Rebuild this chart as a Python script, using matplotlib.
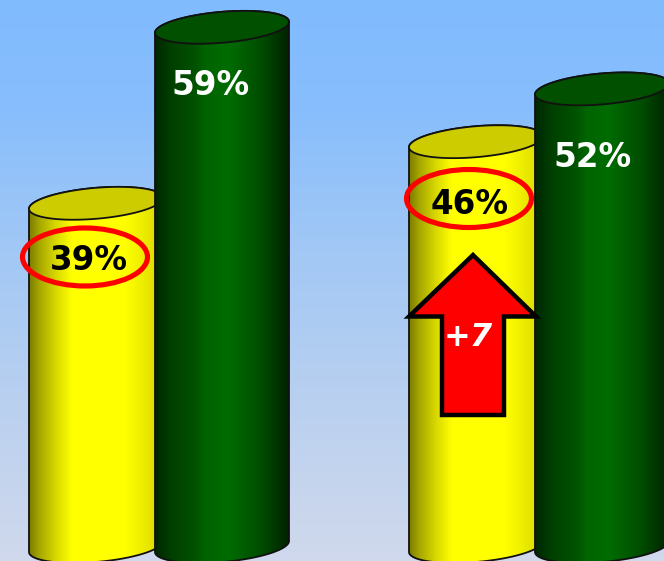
import numpy as np
import matplotlib
matplotlib.use("Agg")
import matplotlib.pyplot as plt
from matplotlib.colors import LinearSegmentedColormap
from matplotlib.patches import Polygon, Ellipse

# Data
series_names = ["Before", "After"]
yellow_values = [39, 46]
green_values = [59, 52]
change_label = "+7"

# Layout: x axis runs in figure pixels, y axis in percent
W, H = 664, 561
PX_PER_PCT = 8.8
BASE_PX = 546.5
SHEAR = 5.5      # px
MINOR = 15.5     # px
BAR_W = 134
yellow_x = [96, 476]
green_x = [222, 602]

plt.rcParams["font.family"] = "DejaVu Sans"
fig = plt.figure(figsize=(W / 100, H / 100), dpi=100)
ax = fig.add_axes([0, 0, 1, 1])
ax.set_xlim(0, W)
ax.set_ylim((BASE_PX - H) / PX_PER_PCT, BASE_PX / PX_PER_PCT)
ax.axis("off")
ax.set_aspect("auto")


def y_from_px(py):
    return (BASE_PX - py) / PX_PER_PCT


extent = (0, W, y_from_px(H), y_from_px(0))
bg_cmap = LinearSegmentedColormap.from_list(
    "bg", [(0, "#80bbff"), (0.2, "#88befc"), (0.45, "#a2c8f5"),
           (0.75, "#bcd1ef"), (1, "#d0d9ec")])
ax.imshow(np.linspace(0, 1, 256)[:, None], extent=extent, cmap=bg_cmap,
          aspect="auto", zorder=0, vmin=0, vmax=1)

yellow_cmap = LinearSegmentedColormap.from_list("y", [
    (0, "#7c7c00"), (0.08, "#a8a800"), (0.2, "#d8d800"), (0.32, "#ffff00"),
    (0.72, "#ffff00"), (1, "#d8d800")])
green_cmap = LinearSegmentedColormap.from_list("g", [
    (0, "#002600"), (0.12, "#003f00"), (0.3, "#005200"), (0.38, "#006400"),
    (0.55, "#006c00"), (0.8, "#004c00"), (1, "#002200")])


def ell(cx, cy_val, t):
    """Sheared ellipse outline at height cy_val, angle array t."""
    a = BAR_W / 2
    x = cx + a * np.cos(t)
    y = cy_val + (SHEAR * np.cos(t) + MINOR * np.sin(t)) / PX_PER_PCT
    return np.column_stack([x, y])


def cylinder(cx, value, cmap, top_color, z):
    bottom = ell(cx, 0, np.linspace(np.pi, 2 * np.pi, 120))
    top_back = ell(cx, value, np.linspace(0, np.pi, 120))
    outline = np.vstack([bottom, top_back])
    body = Polygon(outline, closed=True, facecolor="none", edgecolor="#111111",
                   lw=1.3, zorder=z + 0.2, joinstyle="round")
    ax.add_patch(body)
    im = ax.imshow(np.linspace(0, 1, 256)[None, :], cmap=cmap, vmin=0, vmax=1,
                   extent=(cx - BAR_W / 2, cx + BAR_W / 2, y_from_px(H), y_from_px(0)),
                   aspect="auto", zorder=z)
    clip = Polygon(outline, closed=True, transform=ax.transData)
    im.set_clip_path(clip)
    cap = ell(cx, value, np.linspace(0, 2 * np.pi, 240))
    ax.add_patch(Polygon(cap, closed=True, facecolor=top_color,
                         edgecolor="#111111", lw=1.3, zorder=z + 0.3))


for i in range(len(yellow_values)):
    cylinder(yellow_x[i], yellow_values[i], yellow_cmap, "#cccc00", 2 + i * 2)
    cylinder(green_x[i], green_values[i], green_cmap, "#005000", 3 + i * 2)

ax.set_xlim(0, W)
ax.set_ylim(y_from_px(H), y_from_px(0))

# Percent labels
fs = 23.5
ax.text(88.5, y_from_px(261), f"{yellow_values[0]}%", color="black", fontsize=fs,
        fontweight="bold", ha="center", va="center", zorder=20)
ax.text(211, y_from_px(86), f"{green_values[0]}%", color="white", fontsize=fs,
        fontweight="bold", ha="center", va="center", zorder=20)
ax.text(470, y_from_px(205), f"{yellow_values[1]}%", color="black", fontsize=fs,
        fontweight="bold", ha="center", va="center", zorder=20)
ax.text(592, y_from_px(158), f"{green_values[1]}%", color="white", fontsize=fs,
        fontweight="bold", ha="center", va="center", zorder=20)

# Red highlight ellipses
for cx, cy in [(85, 257), (469, 198.5)]:
    ax.add_patch(Ellipse((cx, y_from_px(cy)), 125, 58 / PX_PER_PCT,
                         facecolor="none", edgecolor="#ff0000", lw=3.7, zorder=15))

# Arrow
arrow_px = [(473, 255), (536, 316.5), (504, 316.5), (504, 415), (442, 415),
            (442, 316.5), (409, 316.5)]
ax.add_patch(Polygon([(x, y_from_px(y)) for x, y in arrow_px], closed=True,
                     facecolor="#ff0000", edgecolor="black", lw=3.2,
                     joinstyle="miter", zorder=16))
ax.text(468, y_from_px(338), change_label, color="white", fontsize=23,
        fontweight="bold", fontstyle="italic", ha="center", va="center", zorder=20)

fig.savefig("out.png", dpi=100)
